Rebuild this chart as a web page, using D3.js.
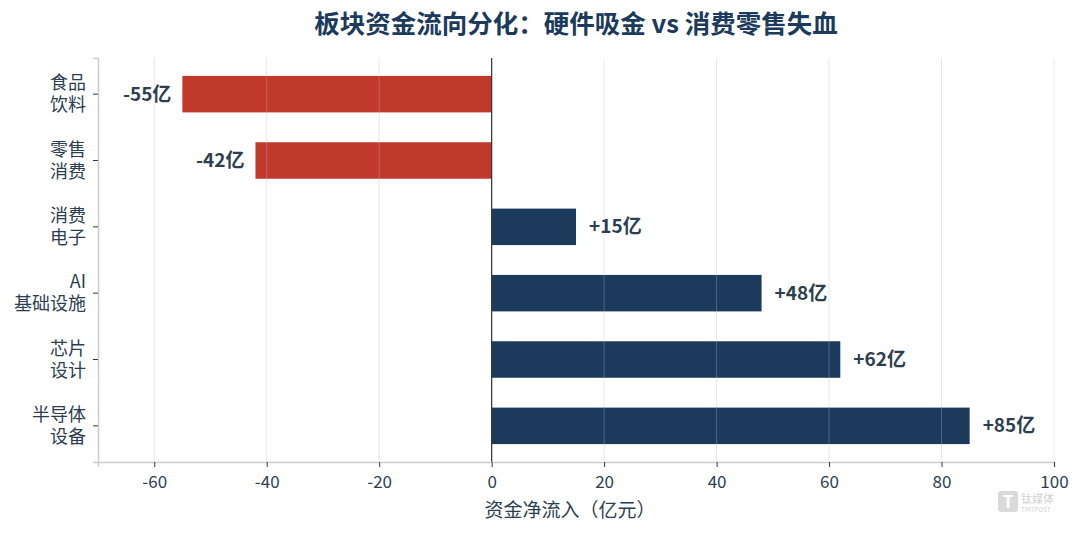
<!DOCTYPE html>
<html>
<head>
<meta charset="utf-8">
<script src="https://cdn.jsdelivr.net/npm/d3@7"></script>
<style>
  body { margin: 0; background: #fff; }
  text { font-family: "Noto Sans CJK SC", "Noto Sans", sans-serif; }
</style>
</head>
<body>
<div id="chart"></div>
<script>
// data
const sectors = [['食品', '饮料'], ['零售', '消费'], ['消费', '电子'], ['AI', '基础设施'], ['芯片', '设计'], ['半导体', '设备']];
const flows = [-55, -42, 15, 48, 62, 85];
const xTicks = [-60, -40, -20, 0, 20, 40, 60, 80, 100];

const w = 1083, h = 533;
const padL = 98, padR = 1054, padT = 58, padB = 462;
const red = '#c0392b', navy = '#1b3a5c', ink = '#2c3e50';

const svg = d3.select('#chart').append('svg')
    .attr('width', w).attr('height', h);

const xScale = d3.scaleLinear().domain([-70, 100]).range([padL, padR]);
const keys = sectors.map(d => d.join(''));
const yScale = d3.scaleBand().domain(keys).range([padT, padB])
    .paddingInner(0.45).paddingOuter(0.27);

// title
svg.append('text')
    .attr('x', (padL + padR) / 2 + 0).attr('y', 33)
    .attr('text-anchor', 'middle')
    .attr('font-size', 25.5).attr('font-weight', 'bold')
    .attr('fill', navy)
    .text('板块资金流向分化：硬件吸金 vs 消费零售失血');

// bars
svg.selectAll('.bar')
    .data(flows)
    .enter()
    .append('rect')
    .attr('class', 'bar')
    .attr('x', d => xScale(Math.min(0, d)))
    .attr('y', (d, i) => yScale(keys[i]))
    .attr('width', d => Math.abs(xScale(d) - xScale(0)))
    .attr('height', yScale.bandwidth())
    .attr('fill', d => d < 0 ? red : navy);

// grid on top of bars, faint
svg.append('g')
    .selectAll('line')
    .data(xTicks)
    .enter()
    .append('line')
    .attr('x1', d => xScale(d)).attr('x2', d => xScale(d))
    .attr('y1', padT).attr('y2', padB)
    .attr('stroke', '#b8bcc2').attr('stroke-opacity', 0.35).attr('stroke-width', 1);

// zero line
svg.append('line')
    .attr('x1', xScale(0)).attr('x2', xScale(0))
    .attr('y1', padT).attr('y2', padB)
    .attr('stroke', '#333').attr('stroke-width', 1.2);

// value labels
svg.selectAll('.val')
    .data(flows)
    .enter()
    .append('text')
    .attr('class', 'val')
    .attr('x', d => d < 0 ? xScale(d) - 11 : xScale(d) + 13)
    .attr('y', (d, i) => yScale(keys[i]) + yScale.bandwidth() / 2)
    .attr('dy', '0.35em')
    .attr('text-anchor', d => d < 0 ? 'end' : 'start')
    .attr('font-size', 19).attr('font-weight', 'bold')
    .attr('fill', ink)
    .text(d => (d > 0 ? '+' : '') + d + '亿');

// x axis
const xAxis = d3.axisBottom(xScale).tickValues(xTicks).tickSize(5).tickPadding(9)
    .tickFormat(d => String(d));
const gx = svg.append('g')
    .attr('transform', 'translate(0,' + padB + ')')
    .call(xAxis);
gx.select('.domain').attr('stroke', '#ccc').attr('stroke-width', 1.5);
gx.selectAll('.tick line').attr('stroke', ink);
gx.selectAll('.tick text').attr('font-size', 17).attr('fill', ink)
    .attr('font-family', '"Noto Sans CJK SC", sans-serif');

// y axis
const gy = svg.append('g')
    .attr('transform', 'translate(' + padL + ',0)')
    .call(d3.axisLeft(yScale).tickSize(5).tickFormat(''));
gy.select('.domain').attr('stroke', '#ccc').attr('stroke-width', 1.5);
gy.selectAll('.tick line').attr('stroke', ink);

// two-line category labels
sectors.forEach((s, i) => {
    const cy = yScale(keys[i]) + yScale.bandwidth() / 2;
    const t = svg.append('text')
        .attr('x', padL - 12)
        .attr('y', cy - 11)
        .attr('text-anchor', 'end')
        .attr('font-size', 18).attr('fill', ink);
    s.forEach((line, j) => {
        t.append('tspan').attr('x', padL - 12).attr('dy', j === 0 ? '0.35em' : 22).text(line);
    });
});

// x axis title
svg.append('text')
    .attr('x', (padL + padR) / 2 - 6).attr('y', 517)
    .attr('text-anchor', 'middle')
    .attr('font-size', 19).attr('fill', ink)
    .text('资金净流入（亿元）');

// watermark
const wm = svg.append('g').attr('opacity', 0.3);
wm.append('rect').attr('x', 998).attr('y', 491).attr('width', 20).attr('height', 21)
    .attr('rx', 3).attr('fill', '#888');
wm.append('text').attr('x', 1008).attr('y', 508).attr('text-anchor', 'middle')
    .attr('font-size', 17).attr('font-weight', 'bold').attr('fill', '#fff').text('T');
wm.append('text').attr('x', 1021).attr('y', 503)
    .attr('font-size', 11).attr('fill', '#666').text('钛媒体');
wm.append('text').attr('x', 1021).attr('y', 512)
    .attr('font-size', 6.5).attr('fill', '#666').text('TMTPOST');
</script>
</body>
</html>
